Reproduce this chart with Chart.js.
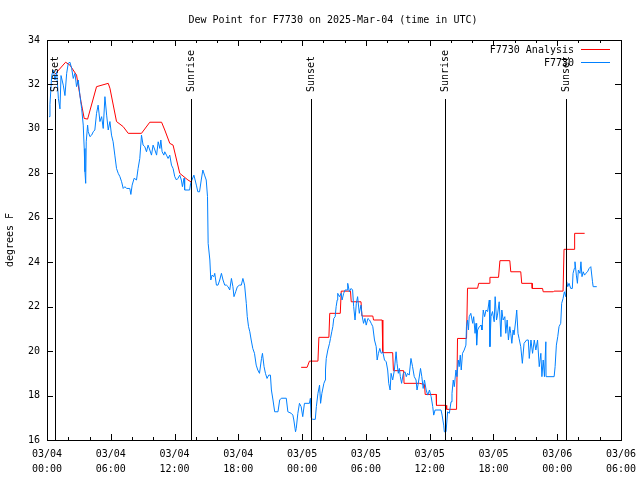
<!DOCTYPE html>
<html lang="en">
<head>
<meta charset="UTF-8">
<title>Dew Point for F7730</title>
<script src="https://cdn.jsdelivr.net/npm/chart.js@4.4.1/dist/chart.umd.min.js"></script>
<style>
  html, body { margin: 0; padding: 0; background: #fff; }
  #wrap { width: 640px; height: 480px; }
</style>
</head>
<body>
<div id="wrap"><canvas id="dewChart"></canvas></div>
<script>
// hours since 03/04 00:00 UTC, dew point in deg F
const titleText = 'Dew Point for F7730 on 2025-Mar-04 (time in UTC)';
const yAxisTitle = 'degrees F';
const seriesNames = ['F7730 Analysis', 'F7730'];
const xTickLabels = [
    ['03/04', '00:00'], ['03/04', '06:00'], ['03/04', '12:00'], ['03/04', '18:00'],
    ['03/05', '00:00'], ['03/05', '06:00'], ['03/05', '12:00'], ['03/05', '18:00'],
    ['03/06', '00:00'], ['03/06', '06:00']
];

const sunHours = [0.78, 13.5, 24.82, 37.4, 48.86];
const sunLabels = ['Sunset', 'Sunrise', 'Sunset', 'Sunrise', 'Sunset'];

const anaHours = [
    0.75, 1.75, 2.16, 2.78, 3.2, 3.5, 3.82, 4.66, 5.76, 5.92, 6.54, 7.17, 7.64, 8.89,
    9.67, 10.78, 11.08, 11.55, 11.86, 12.49, 13.26, 13.61,
    18.0,
    23.91, 24.47, 24.69, 25.49, 25.58, 26.52, 26.6, 27.59, 27.68, 28.55, 28.62, 29.54,
    29.63, 30.65, 30.72, 31.53, 31.59, 32.52, 32.59, 33.55, 33.59, 35.05, 35.51, 35.58,
    36.61, 36.64, 37.54, 37.6, 38.53, 38.62, 39.47, 39.56, 40.51, 40.61, 41.61, 41.67,
    42.48, 42.61, 43.54, 43.63, 44.57, 44.66, 45.63, 45.65, 46.62, 46.68, 47.64, 47.7,
    48.55, 48.64, 49.58, 49.64, 50.58
];
const anaValues = [
    32.46, 33.0, 32.87, 32.42, 31.22, 30.47, 30.44, 31.9, 32.05, 31.83, 30.33, 30.1, 29.8, 29.8,
    30.3, 30.3, 29.95, 29.35, 29.27, 28.0, 27.7, 27.6,
    null,
    19.27, 19.27, 19.55, 19.55, 20.62, 20.62, 21.7, 21.7, 22.7, 22.7, 22.22, 22.22,
    21.58, 21.58, 21.4, 21.4, 19.93, 19.93, 19.12, 19.12, 18.55, 18.55, 18.5, 18.05,
    18.05, 17.56, 17.56, 17.38, 17.38, 20.57, 20.57, 22.83, 22.83, 23.05, 23.05, 23.32,
    23.32, 24.07, 24.07, 23.57, 23.57, 23.05, 23.05, 22.82, 22.82, 22.67, 22.67, 22.7,
    22.7, 24.58, 24.58, 25.3, 25.3
];

const obsHours = [
    0.19, 0.28, 0.44, 0.59, 0.75, 0.91, 1.07, 1.22, 1.32, 1.53, 1.69, 1.85, 2.0, 2.16,
    2.32, 2.47, 2.63, 2.78, 2.94, 3.1, 3.26, 3.41, 3.5, 3.57, 3.64, 3.69, 3.82, 3.88,
    4.04, 4.2, 4.35, 4.5, 4.66, 4.81, 4.98, 5.14, 5.29, 5.45, 5.61, 5.76, 5.92, 6.07,
    6.22, 6.38, 6.54, 6.7, 6.86, 7.02, 7.17, 7.33, 7.49, 7.79, 7.89, 8.01, 8.2, 8.42,
    8.57, 8.73, 8.89, 9.04, 9.2, 9.36, 9.51, 9.67, 9.83, 9.98, 10.15, 10.31, 10.46, 10.62,
    10.71, 10.83, 10.99, 11.08, 11.24, 11.39, 11.55, 11.71, 11.86, 12.02, 12.18, 12.33, 12.49, 12.64,
    12.74, 12.89, 12.95, 13.42, 13.51, 13.82, 14.05, 14.19, 14.35, 14.51, 14.66, 14.82, 14.98, 15.1,
    15.16, 15.32, 15.41, 15.53, 15.69, 15.78, 15.94, 16.09, 16.25, 16.41, 16.56, 16.72, 16.88, 17.03,
    17.19, 17.35, 17.49, 17.59, 17.75, 17.91, 18.12, 18.28, 18.43, 18.59, 18.75, 18.84, 18.96, 19.08,
    19.21, 19.36, 19.52, 19.68, 19.83, 19.99, 20.18, 20.27, 20.42, 20.55, 20.7, 20.86, 21.02, 21.11,
    21.26, 21.42, 21.73, 21.89, 22.04, 22.51, 22.66, 22.98, 23.13, 23.22, 23.38, 23.45, 23.6, 23.75,
    23.91, 24.06, 24.22, 24.69, 24.78, 24.85, 25.0, 25.24, 25.34, 25.49, 25.64, 25.74, 25.86, 26.05,
    26.18, 26.2, 26.27, 26.42, 26.58, 26.67, 26.79, 26.89, 26.98, 27.11, 27.2, 27.3, 27.35, 27.51,
    27.67, 27.76, 27.91, 28.04, 28.23, 28.29, 28.45, 28.61, 28.75, 28.85, 28.98, 29.1, 29.22, 29.38,
    29.54, 29.63, 29.78, 29.91, 30.03, 30.19, 30.34, 30.5, 30.65, 30.81, 30.97, 31.06, 31.18, 31.31,
    31.44, 31.59, 31.75, 31.91, 32.05, 32.15, 32.28, 32.37, 32.52, 32.68, 32.84, 32.93, 33.05, 33.15,
    33.24, 33.36, 33.52, 33.68, 33.8, 33.92, 34.08, 34.24, 34.39, 34.55, 34.72, 34.81, 34.93, 35.14,
    35.26, 35.39, 35.51, 35.67, 35.82, 35.98, 36.14, 36.29, 36.38, 36.51, 37.07, 37.17, 37.32, 37.38,
    37.54, 37.69, 37.85, 38.01, 38.1, 38.22, 38.32, 38.47, 38.57, 38.69, 38.78, 38.88, 38.97, 39.09,
    39.25, 39.41, 39.46, 39.56, 39.65, 39.72, 39.87, 40.05, 40.14, 40.27, 40.36, 40.42, 40.51, 40.67,
    40.83, 40.92, 41.04, 41.17, 41.3, 41.45, 41.61, 41.67, 41.77, 41.91, 42.07, 42.16, 42.29, 42.38,
    42.54, 42.7, 42.79, 42.91, 43.07, 43.16, 43.29, 43.41, 43.54, 43.63, 43.73, 43.85, 43.94, 44.1,
    44.19, 44.31, 44.41, 44.57, 44.72, 44.88, 45.12, 45.28, 45.37, 45.53, 45.68, 45.84, 45.99, 46.15,
    46.31, 46.46, 46.56, 46.68, 46.8, 46.93, 46.95, 47.71, 47.8, 47.92, 48.05, 48.17, 48.33, 48.42,
    48.55, 48.67, 48.8, 48.89, 48.99, 49.11, 49.27, 49.42, 49.49, 49.61, 49.67, 49.8, 49.9, 49.99,
    50.14, 50.23, 50.33, 50.45, 50.57, 50.69, 50.85, 51.0, 51.16, 51.32, 51.38, 51.72
];
const obsValues = [
    30.55, 31.1, 32.4, 32.65, 32.2, 32.57, 31.38, 30.9, 32.4, 31.97, 31.5, 32.5, 32.95, 33.0,
    32.72, 32.27, 32.5, 31.9, 32.2, 31.5, 30.92, 30.17, 29.12, 28.07, 27.55, 29.42, 30.17, 29.88,
    29.65, 29.72, 29.87, 29.95, 30.7, 31.07, 30.33, 30.55, 30.02, 31.45, 30.62, 29.95, 30.33, 29.72,
    29.42, 28.82, 28.22, 28.0, 27.85, 27.62, 27.32, 27.4, 27.32, 27.32, 27.05, 27.47, 27.78, 27.7,
    28.22, 28.67, 29.72, 29.27, 29.2, 28.97, 29.27, 29.05, 28.82, 29.27, 29.05, 28.82, 29.42, 29.12,
    29.5, 28.97, 28.82, 28.97, 28.82, 28.67, 28.82, 28.37, 28.22, 27.85, 27.7, 27.78, 27.92, 27.7,
    27.4, 27.78, 27.25, 27.25, 27.55, 27.92, 27.47, 27.17, 27.17, 27.7, 28.15, 27.92, 27.7, 26.95,
    24.85, 24.1, 23.2, 23.42, 23.35, 23.5, 22.97, 22.97, 23.2, 23.5, 23.2, 22.97, 22.97, 22.9,
    22.75, 23.27, 22.9, 22.45, 22.67, 22.9, 22.97, 22.97, 23.27, 22.97, 22.15, 21.55, 21.1, 20.87,
    20.5, 20.12, 19.9, 19.37, 19.15, 19.0, 19.67, 19.9, 19.3, 19.0, 18.77, 18.92, 18.92, 18.25,
    17.8, 17.27, 17.27, 17.8, 17.88, 17.88, 17.27, 17.2, 17.12, 16.9, 16.37, 16.52, 17.2, 17.65,
    17.5, 17.05, 17.65, 17.65, 17.88, 17.0, 16.93, 16.93, 17.5, 18.1, 18.47, 17.65, 18.1, 18.55,
    18.7, 19.15, 19.67, 20.05, 20.35, 20.57, 20.87, 21.1, 21.47, 21.55, 22.0, 22.3, 22.6, 22.45,
    22.6, 22.3, 22.6, 22.75, 22.75, 23.05, 22.67, 22.82, 22.75, 22.0, 21.4, 22.15, 22.45, 21.7,
    22.07, 21.62, 21.25, 21.47, 21.17, 21.47, 21.4, 21.25, 21.1, 20.5, 20.2, 19.6, 19.9, 20.12,
    19.9, 19.97, 19.6, 19.52, 19.15, 18.55, 18.25, 19.0, 18.7, 19.15, 19.97, 19.45, 19.0, 19.22,
    18.85, 18.55, 19.0, 19.07, 18.85, 19.0, 18.92, 19.67, 19.3, 18.85, 18.7, 18.25, 18.55, 19.22,
    18.85, 18.32, 18.7, 18.25, 18.02, 18.25, 17.95, 17.5, 17.12, 17.35, 17.35, 17.12, 16.67, 16.37,
    16.37, 17.27, 17.2, 17.72, 18.1, 18.7, 18.4, 19.15, 18.85, 19.6, 19.3, 19.82, 19.15, 19.9,
    20.05, 20.27, 21.1, 21.4, 20.95, 21.55, 21.7, 21.25, 21.55, 20.8, 21.25, 20.27, 20.95, 21.1,
    21.17, 20.95, 21.85, 21.55, 21.85, 21.78, 22.3, 20.2, 21.55, 21.78, 21.32, 22.45, 21.4, 21.62,
    22.22, 20.65, 21.85, 21.4, 21.55, 20.8, 21.4, 20.5, 21.1, 20.8, 20.35, 20.95, 20.73, 21.4,
    21.85, 20.8, 20.57, 20.2, 19.45, 20.35, 20.5, 20.5, 19.67, 20.5, 19.9, 20.5, 20.05, 20.5,
    19.3, 19.9, 18.85, 19.6, 18.85, 20.42, 18.85, 18.85, 19.3, 20.27, 20.65, 21.1, 21.25, 22.15,
    22.37, 22.67, 22.45, 23.12, 22.9, 23.05, 22.82, 22.82, 23.5, 23.72, 24.02, 23.42, 23.05, 23.65,
    23.5, 24.02, 23.35, 23.57, 23.42, 23.5, 23.57, 23.72, 23.8, 23.12, 22.9, 22.9
];

const monoFont = "'DejaVu Sans Mono', 'Liberation Mono', monospace";
const redColor = '#ff0000';
const blueColor = '#0080ff';
const legendColors = [redColor, blueColor];

function toPoints(xs, ys) {
    return xs.map((x, i) => ({ x: x, y: ys[i] }));
}

// gnuplot style frame, ticks, sun markers, legend and titles
const gnuplotDecor = {
    id: 'gnuplotDecor',
    afterDatasetsDraw(chart) {
        const ctx = chart.ctx;
        const area = chart.chartArea;
        const xs = chart.scales.x;
        const ys = chart.scales.y;
        ctx.save();
        ctx.strokeStyle = '#000';
        ctx.fillStyle = '#000';
        ctx.lineWidth = 1;

        // sunrise / sunset markers
        ctx.font = '10px ' + monoFont;
        sunHours.forEach((h, i) => {
            const px = Math.round(xs.getPixelForValue(h)) + 0.5;
            ctx.beginPath();
            ctx.moveTo(px, area.bottom);
            ctx.lineTo(px, area.top + 59);
            ctx.stroke();
            ctx.save();
            ctx.translate(px, area.top + 52);
            ctx.rotate(-Math.PI / 2);
            ctx.textAlign = 'left';
            ctx.textBaseline = 'middle';
            ctx.fillText(sunLabels[i], 0, 0);
            ctx.restore();
        });

        // frame
        ctx.strokeRect(Math.round(area.left) + 0.5, Math.round(area.top) + 0.5,
            Math.round(area.right - area.left), Math.round(area.bottom - area.top));

        // y ticks on both sides
        for (let v = ys.min; v <= ys.max; v += 2) {
            const py = Math.round(ys.getPixelForValue(v)) + 0.5;
            ctx.beginPath();
            ctx.moveTo(area.left, py); ctx.lineTo(area.left + 6, py);
            ctx.moveTo(area.right, py); ctx.lineTo(area.right - 6, py);
            ctx.stroke();
        }
        // x ticks, major every 6 h, minor every 2 h, top and bottom
        for (let h = xs.min; h <= xs.max; h += 2) {
            const px = Math.round(xs.getPixelForValue(h)) + 0.5;
            const len = (h % 6 === 0) ? 6 : 3;
            ctx.beginPath();
            ctx.moveTo(px, area.bottom); ctx.lineTo(px, area.bottom - len);
            ctx.moveTo(px, area.top); ctx.lineTo(px, area.top + len);
            ctx.stroke();
        }

        // legend
        ctx.font = '10px ' + monoFont;
        ctx.textAlign = 'right';
        ctx.textBaseline = 'middle';
        for (let i = 0; i < seriesNames.length; i++) {
            const ly = 50 + i * 13;
            ctx.fillStyle = '#000';
            ctx.fillText(seriesNames[i], 574, ly);
            ctx.fillStyle = legendColors[i];
            ctx.fillRect(581, ly - 1, 29, 1);
        }

        // title and y axis label
        ctx.fillStyle = '#000';
        ctx.textAlign = 'center';
        ctx.fillText(titleText, 333, 20);
        ctx.save();
        ctx.translate(10, 240);
        ctx.rotate(-Math.PI / 2);
        ctx.fillText(yAxisTitle, 0, 0);
        ctx.restore();

        ctx.restore();
    }
};

new Chart(document.getElementById('dewChart'), {
    type: 'line',
    data: {
        datasets: [
            {
                label: seriesNames[1],
                data: toPoints(obsHours, obsValues),
                borderColor: blueColor,
                borderWidth: 1,
                pointRadius: 0,
                tension: 0,
                order: 0
            },
            {
                label: seriesNames[0],
                data: toPoints(anaHours, anaValues),
                borderColor: redColor,
                borderWidth: 1,
                pointRadius: 0,
                tension: 0,
                spanGaps: false,
                order: 1
            }
        ]
    },
    options: {
        responsive: true,
        maintainAspectRatio: false,
        animation: false,
        devicePixelRatio: 1,
        layout: { padding: { left: 0, right: 19, top: 40, bottom: 0 } },
        plugins: {
            legend: { display: false },
            title: { display: false },
            tooltip: { enabled: false }
        },
        scales: {
            x: {
                type: 'linear',
                min: 0,
                max: 54,
                grid: { display: false, drawTicks: false },
                border: { display: false },
                ticks: {
                    stepSize: 6,
                    autoSkip: false,
                    maxRotation: 0,
                    padding: 7,
                    color: '#000',
                    font: { family: monoFont, size: 10, lineHeight: 1.5 },
                    callback: (v) => xTickLabels[Math.round(v / 6)]
                },
                afterFit: (s) => {
                    s.height = 40;
                    s.paddingLeft = 0;
                    s.paddingRight = 0;
                }
            },
            y: {
                min: 16,
                max: 34,
                grid: { display: false, drawTicks: false },
                border: { display: false },
                ticks: {
                    stepSize: 2,
                    padding: 7,
                    color: '#000',
                    font: { family: monoFont, size: 10 }
                },
                afterFit: (s) => {
                    s.width = 47;
                    s.paddingTop = 0;
                    s.paddingBottom = 0;
                }
            }
        }
    },
    plugins: [gnuplotDecor]
});
</script>
</body>
</html>
